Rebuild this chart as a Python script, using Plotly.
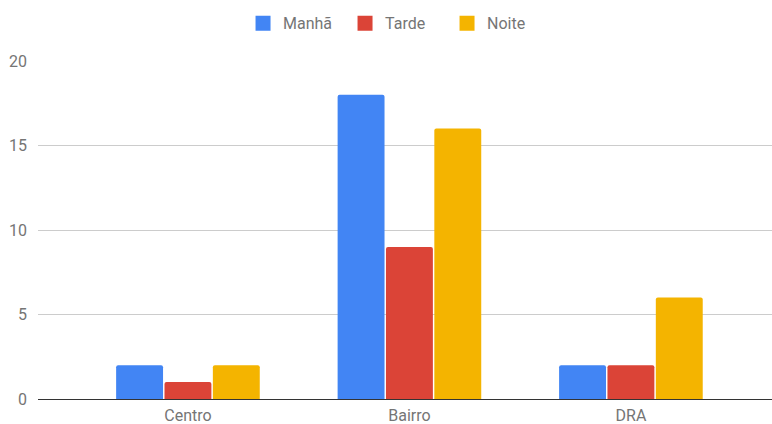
import plotly.graph_objects as go

categories = ["Centro", "Bairro", "DRA"]
manha = [2, 18, 2]
tarde = [1, 9, 2]
noite = [2, 16, 6]
series_names = ["Manhã", "Tarde", "Noite"]
colors = ["#4285F4", "#DB4437", "#F4B400"]
y_ticks = [0, 5, 10, 15, 20]

fig = go.Figure()
for name, vals, col in zip(series_names, [manha, tarde, noite], colors):
    fig.add_trace(go.Bar(name=name, x=categories, y=vals, showlegend=False,
                         marker=dict(color=col, line=dict(width=0))))
# legend entries with larger square swatches
for name, col in zip(series_names, colors):
    fig.add_trace(go.Scatter(name=name, x=[None], y=[None], mode="markers",
                             marker=dict(symbol="square", size=15, color=col),
                             showlegend=True))

fig.update_layout(
    width=772, height=424,
    margin=dict(l=38, r=0, t=61, b=25),
    paper_bgcolor="white", plot_bgcolor="white",
    barmode="group", bargap=0.345, bargroupgap=0.03,
    barcornerradius=2,
    font=dict(family="Roboto", size=16, color="#757575"),
    legend=dict(orientation="h", x=0.513, xanchor="center", xref="container",
                y=0.945, yanchor="middle", yref="container", entrywidth=57,
                font=dict(size=16, color="#757575"), itemclick=False),
    showlegend=True,
)
fig.update_xaxes(type="category", range=[-0.677, 2.637], showgrid=False, showline=False,
                 ticks="", tickfont=dict(size=16, color="#757575"), automargin=False,
                 ticklabelstandoff=5)
fig.update_yaxes(range=[0, 20], tickvals=y_ticks, showgrid=True, gridcolor="#cccccc", gridwidth=1,
                 zeroline=True, zerolinecolor="#333333", zerolinewidth=1, showline=False,
                 ticks="", tickfont=dict(size=16, color="#757575"), ticklabelstandoff=10,
                 automargin=False)

fig.write_html("out.html")
